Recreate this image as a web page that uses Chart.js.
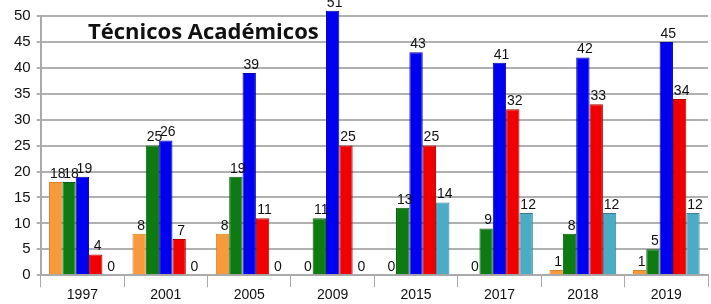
<!DOCTYPE html>
<html>
<head>
<meta charset="utf-8">
<script src="https://cdn.jsdelivr.net/npm/chart.js@4/dist/chart.umd.min.js"></script>
<style>
  html, body { margin: 0; padding: 0; background: #fff; }
  #wrap { width: 711px; height: 304px; position: relative; }
</style>
</head>
<body>
<div id="wrap"><canvas id="chart"></canvas></div>
<script>
// datos del gráfico
const years = ['1997', '2001', '2005', '2009', '2015', '2017', '2018', '2019'];
const serieNaranja = [18, 8, 8, 0, 0, 0, 1, 1];
const serieVerde = [18, 25, 19, 11, 13, 9, 8, 5];
const serieAzul = [19, 26, 39, 51, 43, 41, 42, 45];
const serieRoja = [4, 7, 11, 25, 25, 32, 33, 34];
const serieCeleste = [0, 0, 0, 0, 14, 12, 12, 12];
const yTicks = [0, 5, 10, 15, 20, 25, 30, 35, 40, 45, 50];
const chartTitle = 'Técnicos Académicos';

const FONT = '"Liberation Sans", "DejaVu Sans", sans-serif';

// etiquetas de valor encima de cada barra
const valueLabels = {
    id: 'valueLabels',
    afterDatasetsDraw(chart) {
        const ctx = chart.ctx;
        ctx.save();
        ctx.font = '14px ' + FONT;
        ctx.fillStyle = '#111';
        ctx.textAlign = 'center';
        ctx.textBaseline = 'bottom';
        chart.data.datasets.forEach((ds, i) => {
            chart.getDatasetMeta(i).data.forEach((bar, j) => {
                ctx.fillText(String(ds.data[j]), bar.x + 2, bar.y - 1);
            });
        });
        ctx.restore();
    }
};

// título dentro del área del gráfico
const innerTitle = {
    id: 'innerTitle',
    afterDraw(chart) {
        const ctx = chart.ctx;
        ctx.save();
        ctx.font = 'bold 22px "Open Sans", ' + FONT;
        ctx.fillStyle = '#111';
        ctx.textAlign = 'left';
        ctx.textBaseline = 'middle';
        ctx.fillText(chartTitle, 88, 33);
        ctx.restore();
    }
};

function serie(data, color, border) {
    return {
        data: data,
        backgroundColor: color,
        borderColor: border,
        borderWidth: 1,
        categoryPercentage: 0.8,
        barPercentage: 1.0,
        clip: false
    };
}

new Chart(document.getElementById('chart'), {
    type: 'bar',
    data: {
        labels: years,
        datasets: [
            serie(serieNaranja, '#F79A3C', '#D9822A'),
            serie(serieVerde, '#0E7A12', '#0A5E0D'),
            serie(serieAzul, '#0000F0', '#0000B0'),
            serie(serieRoja, '#F00000', '#B00000'),
            serie(serieCeleste, '#4BACC6', '#357F95')
        ]
    },
    options: {
        responsive: true,
        maintainAspectRatio: false,
        animation: false,
        layout: { padding: { top: 16, right: 3, left: 8, bottom: 0 } },
        plugins: {
            legend: { display: false },
            tooltip: { enabled: false }
        },
        scales: {
            x: {
                grid: {
                    drawOnChartArea: false,
                    drawTicks: true,
                    tickLength: 12,
                    color: '#aaa'
                },
                border: { color: '#aaa', width: 2 },
                ticks: {
                    color: '#111',
                    font: { size: 14, family: FONT },
                    padding: 0
                }
            },
            y: {
                min: 0,
                max: 50,
                afterBuildTicks(axis) {
                    axis.ticks = yTicks.map(v => ({ value: v }));
                },
                grid: { color: '#b0b0b0', lineWidth: 2, drawTicks: true, tickLength: 4 },
                border: { color: '#aaa', width: 2 },
                ticks: {
                    color: '#111',
                    font: { size: 15, family: FONT },
                    padding: 6
                }
            }
        }
    },
    plugins: [valueLabels, innerTitle]
});
</script>
</body>
</html>
